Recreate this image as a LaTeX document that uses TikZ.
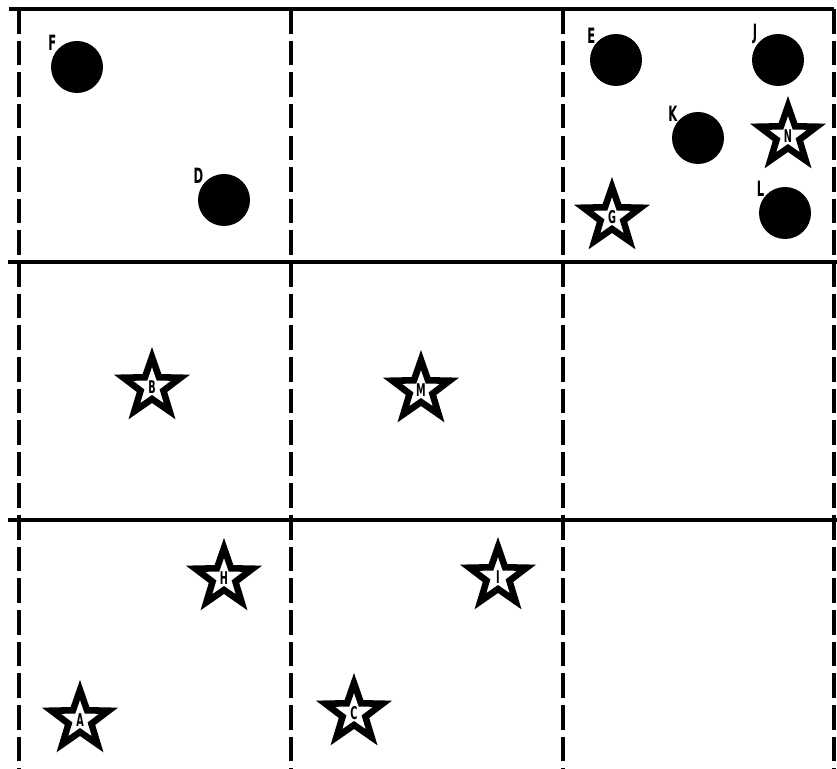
\documentclass[tikz,border=0pt]{standalone}
\usepackage{graphicx}
\usepackage{fontspec}
\usetikzlibrary{shapes.geometric}
\newfontfamily\tagfont{DejaVu Sans}

\newcommand{\tagtxt}[1]{\scalebox{0.55}[1]{\tagfont\bfseries #1}}

\begin{document}
\begin{tikzpicture}[x=0.03cm, y=-0.03cm]
\tikzset{
  rule/.style={line width=2.6pt, black},
  cutline/.style={line width=2.6pt, black, dash pattern=on 21pt off 6pt},
  dot/.style={circle, fill=black, inner sep=0pt, minimum size=1.56cm,
    label={[tag, label distance=-1.5pt]142:#1}},
  tag/.style={font=\fontsize{18}{18}\selectfont, inner sep=1pt},
  starmark/.style={star, star points=5, star point ratio=2.5, draw=black, fill=white,
    line width=5.6pt, miter limit=10, inner sep=0pt, minimum size=1.8cm,
    font=\fontsize{15}{15}\selectfont}
}
\useasboundingbox (0,0) rectangle (837,769);
% grid
\draw[rule] (9,9) -- (834,9);
\draw[rule] (8,262) -- (837,262);
\draw[rule] (8,520) -- (837,520);
\foreach \gx in {19,291,563,834}
  \draw[cutline] (\gx,9) -- (\gx,769);
% round markers
\node[dot={\tagtxt{F}}] (F) at (77,67)   {};
\node[dot={\tagtxt{D}}] (D) at (224,200) {};
\node[dot={\tagtxt{E}}] (E) at (616,60)  {};
\node[dot={\tagtxt{J}}] (J) at (778,60)  {};
\node[dot={\tagtxt{K}}] (K) at (698,138) {};
\node[dot={\tagtxt{L}}] (L) at (785,213) {};
% star markers
\node[starmark] (N) at (788,136) {\tagtxt{N}};
\node[starmark] (G) at (612,217) {\tagtxt{G}};
\node[starmark] (B) at (152,387) {\tagtxt{B}};
\node[starmark] (M) at (421,390) {\tagtxt{M}};
\node[starmark] (H) at (224,578) {\tagtxt{H}};
\node[starmark] (I) at (498,577) {\tagtxt{I}};
\node[starmark] (A) at (80,720)  {\tagtxt{A}};
\node[starmark] (C) at (354,713) {\tagtxt{C}};
\end{tikzpicture}
\end{document}
